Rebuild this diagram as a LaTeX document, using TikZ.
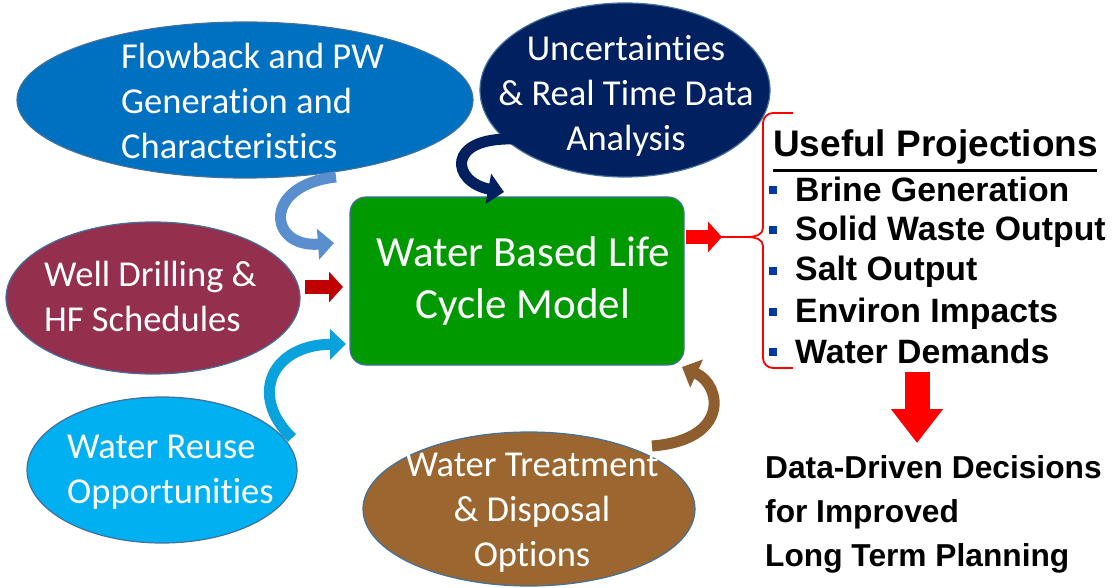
\documentclass[tikz,border=0pt]{standalone}
\usepackage{fontspec}
\setmainfont{Carlito}[RawFeature={-liga;-clig;-calt;-dlig}]
\newfontfamily\arialb{Liberation Sans}[BoldFont={* Bold}]
\usetikzlibrary{shapes.geometric,arrows.meta}
\definecolor{cFlow}{HTML}{0070C0}
\definecolor{cUnc}{HTML}{002060}
\definecolor{cWell}{HTML}{952F4E}
\definecolor{cReuse}{HTML}{00B0F0}
\definecolor{cTreat}{HTML}{9C6631}
\definecolor{cGreen}{HTML}{009A00}
\definecolor{cEdge}{HTML}{41719C}
\definecolor{cArrA}{HTML}{5A8FCF}
\definecolor{cArrC}{HTML}{0AA2DC}
\definecolor{cArrD}{HTML}{8E5E2E}
\definecolor{cDark}{HTML}{C00000}
\definecolor{cBul}{HTML}{0039A6}
\tikzset{
  blob/.style={ellipse, draw=cEdge, line width=1.2pt, inner sep=0pt},
  wtext/.style={text=white, inner sep=0pt, font=\fontsize{36.5}{45}\selectfont},
  curvy/.style={line width=11pt, -{Triangle[width=30pt,length=16pt]}},
  block/.style={line width=14pt, -{Triangle[width=30pt,length=14pt]}},
  item/.style={anchor=base west, inner sep=0pt, font=\arialb\bfseries\fontsize{33.8}{36}\selectfont},
  dec/.style={anchor=base west, inner sep=0pt, font=\arialb\bfseries\fontsize{31.7}{36}\selectfont},
  bul/.style={fill=cBul, minimum size=8pt, inner sep=0pt},
}
\begin{document}
\begin{tikzpicture}[x=1pt,y=-1pt]
\useasboundingbox (0,0) rectangle (1112,588);
% ellipses
\node[blob, fill=cFlow, minimum width=456pt, minimum height=156pt] (flow) at (245,100) {};
\node[wtext, anchor=west, align=left] (flowt) at (121,101) {Flowback and PW\\Generation and\\Characteristics};
\node[blob, fill=cUnc, minimum width=290pt, minimum height=174pt] (unc) at (625,90) {};
\node[wtext, align=center] (unct) at (626,96) {Uncertainties\\\& Real Time Data\\Analysis};
\node[blob, fill=cWell, minimum width=294pt, minimum height=152pt] (well) at (153,298) {};
\node[wtext, anchor=west, align=left] (wellt) at (44,296) {Well Drilling \&\\HF Schedules};
\node[blob, fill=cReuse, minimum width=270pt, minimum height=146pt] (reuse) at (162,470) {};
\node[wtext, anchor=west, align=left] (reuset) at (67,472) {Water Reuse\\Opportunities};
\node[blob, fill=cTreat, minimum width=332pt, minimum height=154pt] (treat) at (529,509) {};
\node[wtext, align=center] (treatt) at (532,513) {Water Treatment\\\& Disposal\\Options};
% model box
\node[draw=cEdge, line width=1.2pt, fill=cGreen, rounded corners=16pt, minimum width=334pt, minimum height=168pt, inner sep=0pt] (model) at (517,281) {};
\node[text=white, align=center, inner sep=0pt, font=\fontsize{43}{52}\selectfont] (modelt) at (523,281) {Water Based Life\\Cycle Model};
% curved arrows
\coordinate (a1s) at (336,177); \coordinate (a1e) at (334,243);
\draw[curvy, cArrA] (a1s) .. controls (262,185) and (268,248) .. (a1e);
\coordinate (a2s) at (514,139); \coordinate (a2e) at (504,192);
\draw[curvy, cUnc] (a2s) .. controls (445,137) and (452,182) .. (a2e);
\coordinate (a3s) at (292,438); \coordinate (a3e) at (346,344);
\draw[curvy, cArrC] (a3s) .. controls (248,395) and (272,345) .. (a3e);
\coordinate (a4s) at (652,446); \coordinate (a4e) at (682,367);
\draw[curvy, cArrD] (a4s) .. controls (730,440) and (722,385) .. (a4e);
% straight arrows
\coordinate (r1s) at (305,287); \coordinate (r1e) at (343,287);
\draw[block, cDark] (r1s) -- (r1e);
\coordinate (r2s) at (686,237); \coordinate (r2e) at (722,237);
\draw[block, red] (r2s) -- (r2e);
\coordinate (r3s) at (917,372); \coordinate (r3e) at (917,443);
\draw[line width=25pt, red, -{Triangle[width=50pt,length=34pt]}] (r3s) -- (r3e);
% brace
\draw[red, line width=1.8pt] (793,113) -- (773,113) to[out=180,in=90] (763,123) -- (763,228) to[out=-90,in=0] (748,237) -- (720,237);
\draw[red, line width=1.8pt] (720,237) -- (748,237) to[out=0,in=90] (763,246) -- (763,358) to[out=-90,in=180] (773,368) -- (793,368);
% projections
\node[anchor=base west, inner sep=0pt, font=\arialb\bfseries\fontsize{37}{40}\selectfont] (useful) at (773,157) {Useful Projections};
\draw[line width=3pt] (useful.south west) ++(0,6) -- ++(324,0);
\node[item] (i1) at (795,202) {Brine Generation};
\node[item] (i2) at (795,241) {Solid Waste Output};
\node[item] (i3) at (795,281) {Salt Output};
\node[item] (i4) at (795,323) {Environ Impacts};
\node[item] (i5) at (795,363) {Water Demands};
\node[bul] (b1) at (773,190) {};
\node[bul] (b2) at (773,230) {};
\node[bul] (b3) at (773,271) {};
\node[bul] (b4) at (773,312) {};
\node[bul] (b5) at (773,352) {};
\node[dec] (d1) at (765,478) {Data-Driven Decisions};
\node[dec] (d2) at (765,522) {for Improved};
\node[dec] (d3) at (765,566) {Long Term Planning};
\end{tikzpicture}
\end{document}
